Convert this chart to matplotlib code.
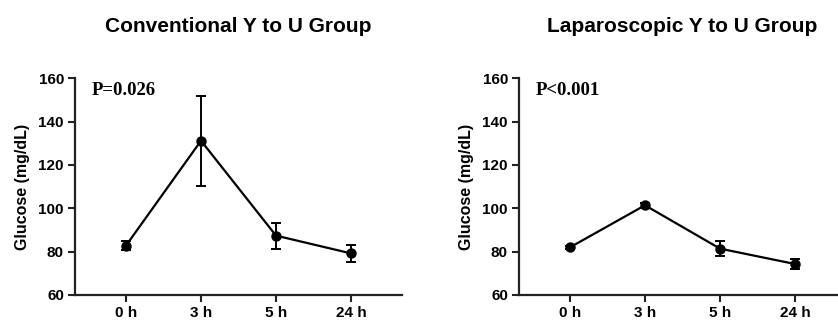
import matplotlib.pyplot as plt

plt.rcParams['font.family'] = ['Liberation Sans', 'DejaVu Sans']

# 数据：时间点与血糖均值及误差
time_labels = ['0 h', '3 h', '5 h', '24 h']

conv_mean = [82.8, 131.2, 87.4, 79.2]
conv_err = [2.1, 20.8, 6.0, 4.0]

lap_mean = [82.0, 101.4, 81.4, 74.3]
lap_err = [0.6, 1.1, 3.3, 2.4]

titles = ['Conventional Y to U Group', 'Laparoscopic Y to U Group']
p_texts = ['P=0.026', 'P<0.001']

W, H = 838, 322
fig = plt.figure(figsize=(W / 100, H / 100), dpi=100)

# 坐标轴位置（像素）
axes_px = [(75, 402), (519, 846)]
y_top, y_bot = 78.3, 295

series = [(conv_mean, conv_err), (lap_mean, lap_err)]

for i, (x0, x1) in enumerate(axes_px):
    ax = fig.add_axes([x0 / W, (H - y_bot) / H, (x1 - x0) / W, (y_bot - y_top) / H])
    mean, err = series[i]
    x = list(range(len(time_labels)))
    ax.errorbar(x, mean, yerr=err, color='black', lw=1.6, marker='o', ms=6.5,
                capsize=3.5, elinewidth=1.4, capthick=1.4, clip_on=False)

    ax.set_xlim(-0.68, 3.68)
    ax.set_ylim(60, 160)
    ax.set_yticks(range(60, 161, 20))
    ax.set_xticks(x)
    ax.set_xticklabels(time_labels)
    for lab in ax.get_xticklabels() + ax.get_yticklabels():
        lab.set_fontweight('bold')
        lab.set_fontsize(11)
    ax.tick_params(width=1.5, length=5, color='#222222', pad=3)

    for s in ['top', 'right']:
        ax.spines[s].set_visible(False)
    for s in ['left', 'bottom']:
        ax.spines[s].set_linewidth(1.6)
        ax.spines[s].set_color('#222222')

    ax.set_ylabel('Glucose (mg/dL)', fontsize=11.5, fontweight='bold', labelpad=6)
    ax.set_title(titles[i], fontsize=15, fontweight='bold', pad=33)
    ax.text(0.05, 0.985, p_texts[i], transform=ax.transAxes, ha='left', va='top',
            fontsize=13.5, fontweight='bold', family=['Liberation Serif'])

fig.savefig('out.png', dpi=100)
